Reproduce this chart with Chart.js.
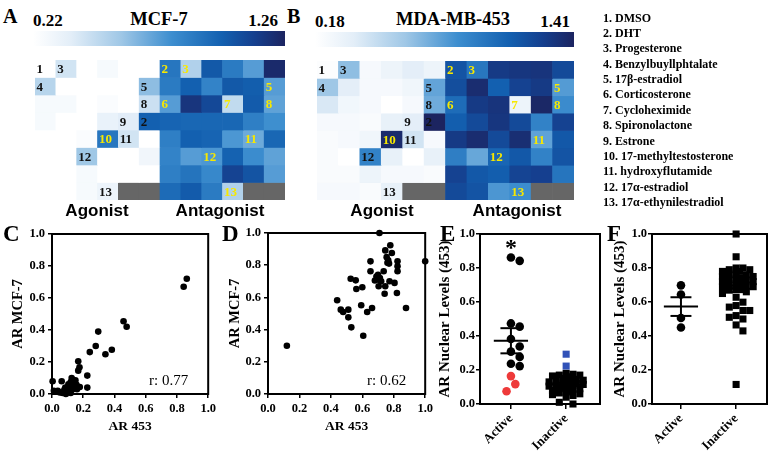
<!DOCTYPE html>
<html><head><meta charset="utf-8">
<script src="https://cdn.jsdelivr.net/npm/chart.js@4.4.1/dist/chart.umd.min.js"></script>
<style>
html,body{margin:0;padding:0;background:#fff;}
#page{position:relative;width:772px;height:456px;overflow:hidden;font-family:'Liberation Serif','Times New Roman',serif;}
#page canvas{position:absolute;}
.t{position:absolute;white-space:nowrap;color:#000;z-index:5;}
.letter{font-weight:bold;font-size:20px;line-height:20px;}
.big{font-size:23px;line-height:23px;}
.cbnum{font-weight:bold;font-size:17px;line-height:17px;}
.cbtitle{font-weight:bold;font-size:18.5px;line-height:18.5px;text-align:center;width:200px;}
.mode{font-family:'Liberation Sans',Arial,sans-serif;font-weight:bold;font-size:17px;line-height:17px;text-align:center;width:140px;}
.cbar{position:absolute;height:15px;}
#legend{position:absolute;left:603px;top:10.6px;font-weight:bold;font-size:12px;line-height:15.37px;}
</style></head>
<body><div id="page">
<canvas id="hmA" width="250" height="140" style="left:35px;top:60px"></canvas>
<canvas id="hmB" width="257" height="139" style="left:317px;top:61px"></canvas>
<canvas id="scC" width="219" height="236" style="left:0px;top:220px"></canvas>
<canvas id="scD" width="217" height="236" style="left:219px;top:220px"></canvas>
<canvas id="dotE" width="171" height="236" style="left:434px;top:220px"></canvas>
<canvas id="dotF" width="167" height="236" style="left:605px;top:220px"></canvas>
<div id="cbA" class="cbar" style="left:33px;top:31px;width:252px;"></div>
<div id="cbB" class="cbar" style="left:315px;top:32px;width:259px;"></div>
<div class="t letter" style="left:3px;top:6px;">A</div>
<div class="t letter" style="left:287px;top:6px;">B</div>
<div class="t letter big" style="left:3px;top:222px;">C</div>
<div class="t letter big" style="left:222px;top:222px;">D</div>
<div class="t letter big" style="left:440px;top:222px;">E</div>
<div class="t letter big" style="left:607px;top:222px;">F</div>
<div id="cbAmin" class="t cbnum" style="left:33px;top:12px;"></div>
<div id="cbAmax" class="t cbnum" style="right:494px;top:12px;"></div>
<div id="cbAtitle" class="t cbtitle" style="left:59px;top:9.5px;"></div>
<div id="cbBmin" class="t cbnum" style="left:315px;top:12.5px;"></div>
<div id="cbBmax" class="t cbnum" style="right:202px;top:12.5px;"></div>
<div id="cbBtitle" class="t cbtitle" style="left:353px;top:9.5px;"></div>
<div class="t mode" style="left:27px;top:201.6px;">Agonist</div>
<div class="t mode" style="left:150px;top:201.6px;">Antagonist</div>
<div class="t mode" style="left:312px;top:201.6px;">Agonist</div>
<div class="t mode" style="left:447px;top:201.6px;">Antagonist</div>
<div id="legend" class="t"></div>
</div>
<script>
// ================= DATA =================
const compounds = ['DMSO','DHT','Progesterone','Benzylbuyllphtalate','17β-estradiol','Corticosterone',
  'Cycloheximide','Spironolactone','Estrone','17-methyltestosterone','hydroxyflutamide','17α-estradiol','17α-ethynilestradiol'];
const screenModes = ['Agonist','Antagonist'];
const heatColumns = ['Ag1','Ag2','Ag3','Ag4','Ag5','Ag6','Ant1','Ant2','Ant3','Ant4','Ant5','Ant6'];
const heatRowNames = ['R1','R2','R3','R4','R5','R6','R7','R8'];
const mcf7Title = 'MCF-7';
const mda453Title = 'MDA-MB-453';
const mcf7Range = [0.22, 1.26];
const mda453Range = [0.18, 1.41];
// AR nuclear levels per well (null = empty well)
const mcf7Heat = [
  [0.22,0.43,0.22,0.27,0.22,0.22, 0.90,0.53,1.03,0.88,0.74,1.23],
  [0.51,0.22,0.22,0.22,0.22,0.62, 0.88,1.00,0.84,1.03,1.01,0.74],
  [0.27,0.27,0.22,0.25,0.22,0.45, 0.74,1.18,1.10,0.48,1.02,0.72],
  [0.27,0.22,0.22,0.34,0.38,1.00, 0.98,0.97,0.97,0.97,0.86,0.79],
  [0.22,0.22,0.25,0.90,0.43,0.22, 0.86,1.00,0.98,0.76,0.69,0.97],
  [0.22,0.22,0.58,0.22,0.22,0.30, 0.84,0.74,0.76,0.99,0.80,0.72],
  [0.22,0.22,0.27,0.22,0.22,0.22, 0.86,0.91,0.82,1.12,1.05,0.74],
  [0.22,0.22,0.27,0.32,null,null, 0.95,1.02,0.88,0.53,null,null]
];
const mda453Heat = [
  [0.20,0.65,0.24,0.30,0.36,0.30, 1.16,0.98,1.29,1.31,1.32,1.21],
  [0.61,0.36,0.24,0.24,0.28,0.76, 1.19,1.36,1.10,1.25,1.29,0.80],
  [0.40,0.27,0.24,0.18,0.24,0.73, 1.04,1.29,1.32,0.30,1.39,0.87],
  [0.24,0.24,0.22,0.33,0.36,1.41, 1.11,1.21,1.31,1.21,0.92,1.25],
  [0.22,0.24,0.28,1.37,0.43,0.24, 1.29,1.36,1.21,1.35,0.77,1.14],
  [0.22,0.18,0.92,0.33,0.18,0.33, 0.94,0.75,1.07,1.14,0.92,1.16],
  [0.22,0.22,0.30,0.24,0.24,0.22, 1.25,1.14,1.11,1.24,1.26,0.99],
  [0.24,0.24,0.22,0.33,null,null, 1.21,1.16,0.82,0.86,null,null]
];
// wells holding the numbered reference compounds: [column, row, compound no., text colour]
const wellLabels = [[0,0,1,'k'],[1,0,3,'k'],[6,0,2,'y'],[7,0,3,'y'],[0,1,4,'k'],[5,1,5,'k'],[11,1,5,'y'],
  [5,2,8,'k'],[6,2,6,'y'],[9,2,7,'y'],[11,2,8,'y'],[4,3,9,'k'],[5,3,2,'k'],[3,4,10,'y'],[4,4,11,'k'],
  [10,4,11,'y'],[2,5,12,'k'],[8,5,12,'y'],[3,7,13,'k'],[9,7,13,'y']];

// C: agonist mode
const agonistAR453 = [0.863,0.843,0.458,0.478,0.296,0.280,0.242,0.342,0.383,0.168,0.176,0.168,0.226,0.226,0.004,
  0.062,0.126,0.120,0.145,0.157,0.178,0.100,0.079,0.037,0.012,0.068,0.089,0.120,0.135,0.110,0.095,0.150,0.140,
  0.130,0.105,0.160,0.085,0.050,0.115];
const agonistARMCF7 = [0.720,0.670,0.455,0.420,0.390,0.300,0.262,0.248,0.277,0.204,0.167,0.146,0.115,0.040,0.080,
  0.080,0.100,0.075,0.069,0.058,0.044,0.038,0.027,0.020,0.020,0.006,0.000,0.006,0.030,0.045,0.015,0.085,0.050,
  0.090,0.060,0.030,0.040,0.010,0.020];
const agonistR = 'r: 0.77';
// D: antagonist mode
const antagonistAR453 = [0.709,1.000,0.120,0.440,0.463,0.478,0.511,0.511,0.530,0.606,0.593,0.631,0.662,0.878,0.526,
  0.558,0.562,0.600,0.652,0.652,0.778,0.746,0.788,0.755,0.765,0.770,0.760,0.824,0.824,0.824,0.736,0.700,0.712,
  0.720,0.705,0.704,0.746,0.773,0.805,0.742,0.820,0.680,0.690];
const antagonistARMCF7 = [1.000,0.824,0.300,0.582,0.524,0.509,0.524,0.476,0.414,0.362,0.551,0.509,0.534,0.534,0.716,
  0.706,0.652,0.663,0.824,0.762,0.924,0.892,0.876,0.850,0.830,0.810,0.815,0.824,0.793,0.762,0.762,0.740,0.720,
  0.700,0.710,0.669,0.669,0.700,0.690,0.623,0.627,0.705,0.730];
const antagonistR = 'r: 0.62';
// E / F groups
const groupNames = ['Active','Inactive'];
const agonistActive = [0.862,0.842,0.474,0.455,0.382,0.338,0.308,0.277,0.237,0.223];
const agonistActiveFlagged = [0.164,0.117,0.075];
const agonistInactive = [0.180,0.175,0.170,0.170,0.165,0.160,0.150,0.150,0.145,0.140,0.135,0.130,0.130,0.125,
  0.120,0.120,0.115,0.110,0.110,0.105,0.100,0.100,0.095,0.090,0.090,0.085,0.080,0.075,0.070,0.065,0.060,0.055,
  0.050,0.040,0.010,0.000];
const agonistInactiveFlagged = [0.293,0.223];
const agonistMean = [0.372,0.115];
const agonistSem = [0.074,0.010];
const antagonistActive = [0.698,0.644,0.506,0.450];
const antagonistInactive = [1.000,0.866,0.800,0.800,0.790,0.790,0.780,0.780,0.770,0.760,0.760,0.750,0.750,0.740,
  0.740,0.730,0.730,0.720,0.720,0.710,0.710,0.700,0.700,0.690,0.690,0.680,0.680,0.670,0.660,0.650,0.628,0.599,
  0.579,0.570,0.550,0.550,0.520,0.510,0.500,0.465,0.430,0.115];
const antagonistMean = [0.573,0.678];
const antagonistSem = [0.055,0.020];
const yTicksAR = [0,0.2,0.4,0.6,0.8,1.0];

// ================= STYLE =================
const SERIF = "'Liberation Serif','Times New Roman',serif";
const colorStops = [[0,'#ffffff'],[0.15,'#e3eef8'],[0.35,'#9fc7e6'],[0.55,'#3d8ecf'],[0.75,'#1360b0'],[0.88,'#153f8e'],[1,'#1c2460']];
const EMPTY = '#666666';
function hexRgb(h){return [1,3,5].map(i=>parseInt(h.substr(i,2),16));}
function colorAt(t){
  t=Math.max(0,Math.min(1,t));
  for(let i=1;i<colorStops.length;i++){
    if(t<=colorStops[i][0]){
      const [t0,c0]=colorStops[i-1],[t1,c1]=colorStops[i];
      const f=(t-t0)/(t1-t0),a=hexRgb(c0),b=hexRgb(c1);
      return 'rgb('+a.map((v,k)=>Math.round(v+(b[k]-v)*f)).join(',')+')';
    }
  }
  return colorStops[colorStops.length-1][1];
}
const gradient='linear-gradient(to right,'+colorStops.map(s=>s[1]+' '+(s[0]*100)+'%').join(',')+')';
document.getElementById('cbA').style.background=gradient;
document.getElementById('cbB').style.background=gradient;
document.getElementById('cbAmin').textContent=mcf7Range[0].toFixed(2);
document.getElementById('cbAmax').textContent=mcf7Range[1].toFixed(2);
document.getElementById('cbAtitle').textContent=mcf7Title;
document.getElementById('cbBmin').textContent=mda453Range[0].toFixed(2);
document.getElementById('cbBmax').textContent=mda453Range[1].toFixed(2);
document.getElementById('cbBtitle').textContent=mda453Title;
document.getElementById('legend').innerHTML=compounds.map((c,i)=>'<div>'+(i+1)+'. '+c+'</div>').join('');

Chart.defaults.animation=false;
Chart.defaults.responsive=false;
Chart.defaults.plugins.legend.display=false;
Chart.defaults.plugins.tooltip.enabled=false;

// ================= HEATMAPS =================
const wellLabelPlugin={id:'wellLabels',afterDatasetsDraw(chart){
  const {ctx,scales:{x,y}}=chart;
  const half=(x.getPixelForValue(1)-x.getPixelForValue(0))/2;
  ctx.save();ctx.font='bold 13px '+SERIF;ctx.textAlign='left';ctx.textBaseline='alphabetic';
  for(const [c,r,n,k] of wellLabels){
    const px=x.getPixelForValue(c)-half+1.5;
    const py=(y.getPixelForValue(r)+y.getPixelForValue(r+1))/2+4.5;
    ctx.fillStyle=k==='y'?'#f7e800':'#111';
    ctx.fillText(String(n),px,py);
  }
  ctx.restore();
}};
function heatmap(id,values,range){
  const datasets=values.map((row,r)=>({
    label:heatRowNames[r],
    data:row.map(()=>[r,r+1]),
    backgroundColor:row.map(v=>v==null?EMPTY:colorAt((v-range[0])/(range[1]-range[0]))),
    borderWidth:0,barPercentage:1,categoryPercentage:1,grouped:false
  }));
  new Chart(document.getElementById(id),{type:'bar',data:{labels:heatColumns,datasets},
    options:{layout:{padding:0},scales:{x:{display:false},y:{display:false,min:0,max:heatRowNames.length,reverse:true}}},
    plugins:[wellLabelPlugin]});
}
heatmap('hmA',mcf7Heat,mcf7Range);
heatmap('hmB',mda453Heat,mda453Range);

// ================= SCATTER / DOT PLOTS =================
const framePlugin={id:'frame',beforeDatasetsDraw(chart){
  const {ctx,chartArea:a}=chart;ctx.save();ctx.strokeStyle='#000';ctx.lineWidth=2;
  ctx.strokeRect(a.left,a.top,a.right-a.left,a.bottom-a.top);ctx.restore();
}};
const noteTextPlugin={id:'noteText',afterDatasetsDraw(chart,args,opts){
  if(!opts.text)return;
  const {ctx,chartArea:a}=chart;ctx.save();ctx.font=opts.font;ctx.fillStyle='#000';
  ctx.textAlign=opts.align||'right';ctx.textBaseline='alphabetic';
  const x=opts.xValue!=null?chart.scales.x.getPixelForValue(opts.xValue):a.right-opts.dxRight;
  const y=opts.dyTop!=null?a.top+opts.dyTop:a.bottom-opts.dyBottom;
  ctx.fillText(opts.text,x,y);ctx.restore();
}};
const meanSemPlugin={id:'meanSem',afterDatasetsDraw(chart,args,opts){
  if(!opts.mean)return;
  const {ctx,scales:{x,y}}=chart;ctx.save();ctx.strokeStyle='#000';ctx.lineWidth=2;
  opts.mean.forEach((m,i)=>{
    const c=i+1,s=opts.sem[i];
    const seg=(x0,x1,yv)=>{ctx.beginPath();ctx.moveTo(x.getPixelForValue(x0),y.getPixelForValue(yv));ctx.lineTo(x.getPixelForValue(x1),y.getPixelForValue(yv));ctx.stroke();};
    seg(c-0.31,c+0.31,m);seg(c-0.19,c+0.19,m+s);seg(c-0.19,c+0.19,m-s);
    ctx.beginPath();ctx.moveTo(x.getPixelForValue(c),y.getPixelForValue(m-s));ctx.lineTo(x.getPixelForValue(c),y.getPixelForValue(m+s));ctx.stroke();
  });
  ctx.restore();
}};

const tickFont={family:SERIF,weight:'bold',size:12.5};
function yAxis(width,title,titleSize,titlePad,tickPad){
  return {type:'linear',min:0,max:1,afterFit:s=>{s.width=width;},
    afterBuildTicks:s=>{s.ticks=yTicksAR.map(v=>({value:v}));},
    border:{display:false},
    grid:{drawOnChartArea:false,drawTicks:true,tickLength:4,color:'#000',lineWidth:1.5},
    ticks:{font:tickFont,color:'#000',padding:tickPad,callback:v=>v.toFixed(1)},
    title:{display:true,text:title,color:'#000',font:{family:SERIF,weight:'bold',size:titleSize},padding:{top:titlePad,bottom:0}}};
}
function scatterPanel(id,xs,ys,layout,note){
  new Chart(document.getElementById(id),{type:'scatter',
    data:{datasets:[{data:xs.map((v,i)=>({x:v,y:ys[i]})),backgroundColor:'#000',borderWidth:0,pointRadius:3.3,clip:false}]},
    options:{layout:{padding:{top:layout.top,right:layout.right,left:0,bottom:0}},
      plugins:{noteText:{text:note,font:'15px '+SERIF,dxRight:layout.noteRight,dyBottom:9}},
      scales:{
        x:{type:'linear',min:0,max:1,afterFit:s=>{s.height=layout.xH;},
          afterBuildTicks:s=>{s.ticks=yTicksAR.map(v=>({value:v}));},
          border:{display:false},
          grid:{drawOnChartArea:false,drawTicks:true,tickLength:4,color:'#000',lineWidth:1.5},
          ticks:{font:tickFont,color:'#000',padding:3,autoSkip:false,maxRotation:0,minRotation:0,callback:v=>v.toFixed(1)},
          title:{display:true,text:'AR 453',color:'#000',font:{family:SERIF,weight:'bold',size:13.5},padding:{top:0,bottom:21}}},
        y:yAxis(layout.yW,'AR MCF-7',14.5,layout.titlePad,3)
      }},
    plugins:[framePlugin,noteTextPlugin]});
}
scatterPanel('scC',agonistAR453,agonistARMCF7,{top:14,right:6,xH:62,yW:52,titlePad:9.6,noteRight:20},agonistR);
scatterPanel('scD',antagonistAR453,antagonistARMCF7,{top:13,right:9,xH:62,yW:49,titlePad:7.3,noteRight:19},antagonistR);

// beeswarm layout of a column (spreads overlapping markers sideways)
function swarm(vals,center,pxX,pxY,d,maxPx,square){
  const step=d/2,placed=[],xs=new Array(vals.length);
  const order=vals.map((v,i)=>i).sort((a,b)=>vals[b]-vals[a]);
  const nMax=Math.floor(maxPx/step);
  for(const i of order){
    const py=vals[i]*pxY;let best=0,bestD=-1;
    for(let k=0;k<=2*nMax;k++){
      const off=k===0?0:(k%2?1:-1)*Math.ceil(k/2)*step;
      let md=Infinity;
      for(const p of placed){const dx=Math.abs(p[0]-off),dy=Math.abs(p[1]-py);
        const dist=square?Math.max(dx,dy):Math.hypot(dx,dy);if(dist<md)md=dist;}
      if(md>=d){best=off;bestD=md;break;}
      if(md>bestD){bestD=md;best=off;}
    }
    placed.push([best,py]);xs[i]=center+best/pxX;
  }
  return xs;
}
function column(groups,center,d,square){
  const all=[].concat(...groups);
  const xs=swarm(all,center,56.6,168.7,d,18,square);
  let k=0;return groups.map(g=>g.map(v=>({x:xs[k++],y:v})));
}
function dotPanel(id,sets,xMin,xMax,layout,mean,sem,star){
  new Chart(document.getElementById(id),{type:'scatter',
    data:{datasets:sets.map(s=>({data:s.data,backgroundColor:s.color,borderWidth:0,pointStyle:s.style,pointRadius:s.r,clip:false}))},
    options:{layout:{padding:{top:14,right:2,left:0,bottom:0}},
      plugins:{meanSem:{mean,sem},noteText:star?{text:'*',font:'bold 24px '+SERIF,align:'center',xValue:1,dyTop:21}:{}},
      scales:{
        x:{type:'linear',min:xMin,max:xMax,afterFit:s=>{s.height=layout.xH;},
          afterBuildTicks:s=>{s.ticks=groupNames.map((g,i)=>({value:i+1}));},
          border:{display:false},
          grid:{drawOnChartArea:false,drawTicks:true,tickLength:5,color:'#000',lineWidth:1.5},
          ticks:{font:{family:SERIF,weight:'bold',size:13},color:'#000',padding:2,autoSkip:false,minRotation:45,maxRotation:45,
            callback:v=>groupNames[Math.round(v)-1]}},
        y:yAxis(layout.yW,'AR Nuclear Levels (453)',15,layout.titlePad,1)
      }},
    plugins:[framePlugin,meanSemPlugin,noteTextPlugin]});
}
const [eAct,eActRed]=column([agonistActive,agonistActiveFlagged],1,9,false);
const [eIn,eInBlue]=column([agonistInactive,agonistInactiveFlagged],2,7,true);
dotPanel('dotE',[
  {data:eAct,color:'#000',style:'circle',r:4.3},
  {data:eActRed,color:'#ee3a3a',style:'circle',r:4.3},
  {data:eIn,color:'#000',style:'rect',r:5},
  {data:eInBlue,color:'#3152b8',style:'rect',r:5}
],0.44,2.613,{xH:52,yW:46,titlePad:2.3},agonistMean,agonistSem,true);
const [fAct]=column([antagonistActive],1,9,false);
const [fIn]=column([antagonistInactive],2,7,true);
dotPanel('dotF',[
  {data:fAct,color:'#000',style:'circle',r:4.3},
  {data:fIn,color:'#000',style:'rect',r:5}
],0.475,2.56,{xH:52,yW:47,titlePad:6},antagonistMean,antagonistSem,false);
</script>
</body></html>
